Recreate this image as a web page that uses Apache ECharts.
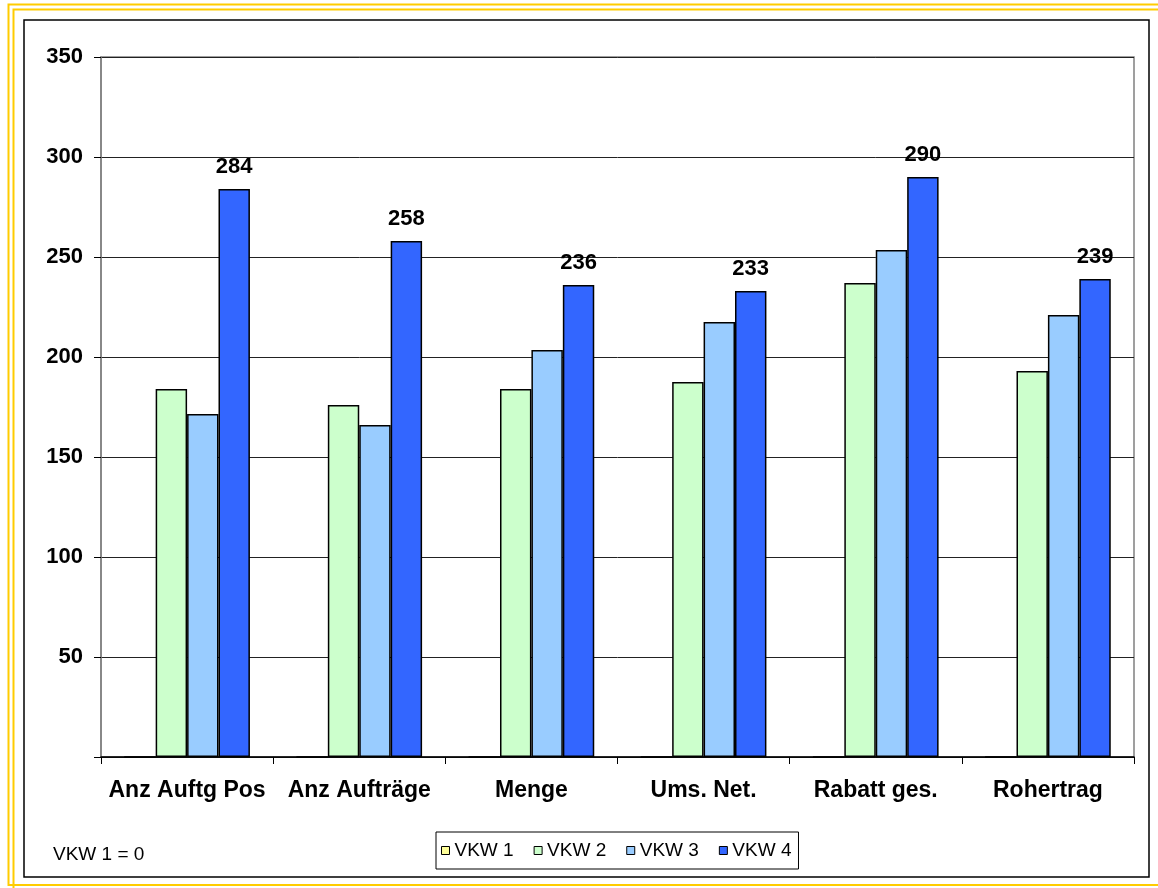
<!DOCTYPE html>
<html>
<head>
<meta charset="utf-8">
<script src="https://cdn.jsdelivr.net/npm/echarts@6/dist/echarts.min.js"></script>
<style>
html,body{margin:0;padding:0;background:#fff;}
#chart{width:1158px;height:888px;}
</style>
</head>
<body>
<div id="chart"></div>
<script>
const categories = ['Anz Auftg Pos', 'Anz Aufträge', 'Menge', 'Ums. Net.', 'Rabatt ges.', 'Rohertrag'];
const seriesNames = ['VKW 1', 'VKW 2', 'VKW 3', 'VKW 4'];
const vkw1 = [0, 0, 0, 0, 0, 0];
const vkw2 = [184, 176, 184, 187.5, 237, 193];
const vkw3 = [171.5, 166, 203.5, 217.5, 253.5, 221];
const vkw4 = [284, 258, 236, 233, 290, 239];
const colors = ['#FFFF99', '#CCFFCC', '#99CCFF', '#3366FF'];

const FONT = '"Liberation Sans", Arial, sans-serif';
const chart = echarts.init(document.getElementById('chart'), null, {renderer: 'canvas'});

function mk(name, data, color, withLabel) {
  return {
    name: name,
    type: 'bar',
    data: data,
    barGap: '0%',
    barCategoryGap: '27%',
    itemStyle: {color: color, borderColor: '#000', borderWidth: 1.5},
    label: withLabel ? {
      show: true, position: 'top', distance: 11,
      fontFamily: FONT, fontWeight: 'bold', fontSize: 22, color: '#000',
      formatter: p => Math.round(p.value)
    } : {show: false},
    emphasis: {disabled: true}
  };
}

chart.setOption({
  animation: false,
  backgroundColor: '#fff',
  grid: {left: 101, top: 57, right: 24, bottom: 131, show: true, borderColor: '#808080', borderWidth: 1.5},
  legend: {
    data: seriesNames,
    left: 436, top: 832,
    orient: 'horizontal',
    icon: 'rect',
    itemWidth: 8, itemHeight: 8, itemGap: 20,
    padding: [9, 7, 9, 5],
    borderColor: '#000', borderWidth: 1,
    itemStyle: {borderColor: '#000', borderWidth: 1},
    textStyle: {fontFamily: FONT, fontSize: 19, color: '#000'}
  },
  xAxis: {
    type: 'category',
    data: categories,
    axisLine: {lineStyle: {color: '#000', width: 1.5}},
    axisTick: {show: true, length: 7, interval: 0, alignWithLabel: false, lineStyle: {color: '#000'}},
    axisLabel: {fontFamily: FONT, fontWeight: 'bold', fontSize: 23, color: '#000', margin: 22, interval: 0}
  },
  yAxis: {
    type: 'value',
    min: 0, max: 350, interval: 50,
    axisLine: {show: true, lineStyle: {color: '#808080', width: 1.5}},
    axisTick: {show: true, length: 7, lineStyle: {color: '#000'}},
    splitLine: {lineStyle: {color: '#222', width: 1}},
    axisLabel: {fontFamily: FONT, fontWeight: 'bold', fontSize: 22, color: '#000', margin: 18,
      formatter: v => v === 0 ? '' : String(v)}
  },
  graphic: [
    {type: 'rect', shape: {x: 8.5, y: 4.5, width: 1200, height: 880.5}, style: {fill: null, stroke: '#FFCC00', lineWidth: 2}, silent: true},
    {type: 'rect', shape: {x: 13.5, y: 9.5, width: 1200, height: 880}, style: {fill: null, stroke: '#FFCC00', lineWidth: 2}, silent: true},
    {type: 'rect', shape: {x: 24, y: 20, width: 1125, height: 857}, style: {fill: null, stroke: '#000', lineWidth: 1.5}, silent: true},
    {type: 'text', left: 53, top: 845, style: {text: 'VKW 1 = 0', fontFamily: FONT, fontSize: 19, fill: '#000'}, silent: true}
  ],
  series: [
    mk(seriesNames[0], vkw1, colors[0], false),
    mk(seriesNames[1], vkw2, colors[1], false),
    mk(seriesNames[2], vkw3, colors[2], false),
    mk(seriesNames[3], vkw4, colors[3], true)
  ]
});
</script>
</body>
</html>
